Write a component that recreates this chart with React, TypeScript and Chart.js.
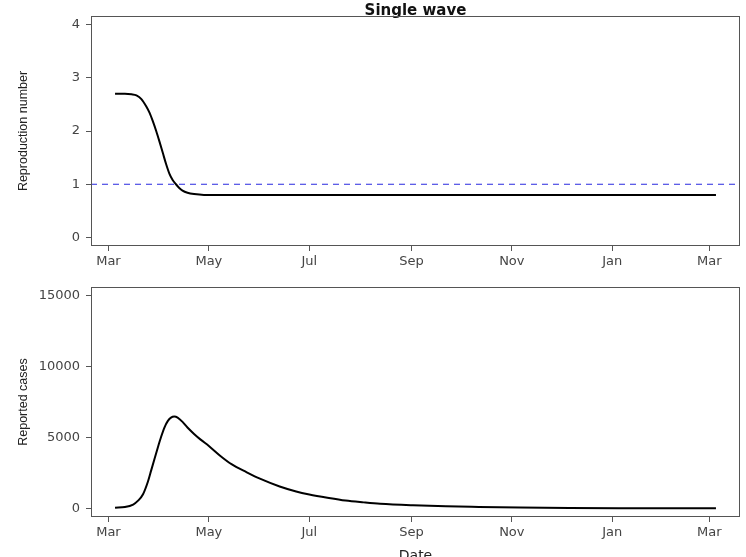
import React, { useEffect, useRef } from "react";
import { Chart, registerables } from "chart.js";

Chart.register(...registerables);

// Days counted from 1 March 2020
const xTickDays = [0, 61, 122, 184, 245, 306, 365];
const xTickLabels = ["Mar", "May", "Jul", "Sep", "Nov", "Jan", "Mar"];
const xMin = -10.6;
const xMax = 383.6;

const rtTicks = [0, 1, 2, 3, 4];
const casesTicks = [0, 5000, 10000, 15000];

const rtDays = [4, 10, 14, 17, 20, 23, 25, 27, 29, 31, 33, 35, 37, 39, 41, 43, 45, 48, 52, 58, 100, 200, 300, 369];
const rtValues = [2.7, 2.7, 2.69, 2.67, 2.6, 2.46, 2.34, 2.18, 2.0, 1.8, 1.59, 1.38, 1.2, 1.08, 1.0, 0.93, 0.88, 0.84, 0.815, 0.8, 0.8, 0.8, 0.8, 0.8];
const rtThreshold = 1;

const caseDays = [4, 10, 15, 18, 21, 24, 26, 28, 30, 32, 34, 36, 38, 40, 42, 45, 48, 52, 56, 61, 68, 75, 84, 92, 104, 114, 122, 133, 144, 155, 165, 185, 205, 225, 250, 280, 310, 340, 369];
const caseValues = [50, 100, 280, 550, 1000, 1900, 2700, 3500, 4300, 5050, 5700, 6150, 6400, 6470, 6400, 6100, 5700, 5250, 4850, 4400, 3700, 3100, 2550, 2100, 1550, 1200, 990, 760, 560, 430, 330, 220, 150, 110, 70, 40, 25, 15, 10];

const TICK_FONT = { family: "'DejaVu Sans', sans-serif", size: 13 };
const YTITLE_FONT = { family: "'Liberation Sans', Arial, sans-serif", size: 12.5 };
const AXIS_COLOR = "#555";
const LABEL_COLOR = "#444";

const boxPlugin = {
  id: "rbox",
  afterDatasetsDraw(chart: any) {
    const { ctx, chartArea: a } = chart;
    ctx.save();
    ctx.strokeStyle = AXIS_COLOR;
    ctx.lineWidth = 1;
    const l = Math.round(a.left) + 0.5;
    const t = Math.round(a.top) + 0.5;
    const r = Math.round(a.right) - 0.5;
    const b = Math.round(a.bottom) - 0.5;
    ctx.strokeRect(l, t, r - l, b - t);
    ctx.restore();
  },
};

function xScale(height: number, title?: string) {
  return {
    type: "linear",
    min: xMin,
    max: xMax,
    bounds: "data",
    afterBuildTicks: (s: any) => {
      s.ticks = xTickDays.map((v) => ({ value: v }));
    },
    afterFit: (s: any) => {
      s.height = height;
    },
    ticks: {
      autoSkip: false,
      maxRotation: 0,
      padding: 3,
      color: LABEL_COLOR,
      font: TICK_FONT,
      callback: (_v: any, i: number) => xTickLabels[i],
    },
    grid: { drawOnChartArea: false, drawTicks: true, tickLength: 5, color: AXIS_COLOR },
    border: { display: false },
    title: title
      ? {
          display: true,
          text: title,
          color: "#222",
          font: { family: "'DejaVu Sans', sans-serif", size: 14 },
          padding: { top: 0, bottom: 5 },
        }
      : { display: false },
  };
}

function yScale(min: number, max: number, ticks: number[], title: string) {
  return {
    type: "linear",
    min,
    max,
    bounds: "data",
    afterBuildTicks: (s: any) => {
      s.ticks = ticks.map((v) => ({ value: v }));
    },
    afterFit: (s: any) => {
      s.width = 91;
    },
    ticks: {
      autoSkip: false,
      padding: 6,
      color: LABEL_COLOR,
      font: TICK_FONT,
      callback: (v: any) => String(v),
    },
    grid: { drawOnChartArea: false, drawTicks: true, tickLength: 5, color: AXIS_COLOR },
    border: { display: false },
    title: {
      display: true,
      text: title,
      color: "#222",
      font: YTITLE_FONT,
      padding: { top: 16, bottom: 0 },
    },
  };
}

export default function App() {
  const topRef = useRef<HTMLCanvasElement>(null);
  const botRef = useRef<HTMLCanvasElement>(null);

  useEffect(() => {
    const rtData = rtDays.map((d, i) => ({ x: d, y: rtValues[i] }));
    const caseData = caseDays.map((d, i) => ({ x: d, y: caseValues[i] }));

    const top = new Chart(topRef.current as HTMLCanvasElement, {
      type: "line",
      data: {
        datasets: [
          {
            data: rtData,
            borderColor: "#000",
            borderWidth: 2,
            pointRadius: 0,
            cubicInterpolationMode: "monotone",
          },
          {
            data: [
              { x: xMin, y: rtThreshold },
              { x: xMax, y: rtThreshold },
            ],
            borderColor: "#2828e0",
            borderWidth: 1.2,
            borderDash: [6, 5],
            pointRadius: 0,
          },
        ],
      },
      options: {
        animation: false,
        responsive: false,
        layout: { padding: { left: 0, right: 6, top: 0, bottom: 0 } },
        plugins: {
          legend: { display: false },
          tooltip: { enabled: false },
          title: {
            display: true,
            text: "Single wave",
            fullSize: false,
            color: "#111",
            font: { family: "'DejaVu Sans', sans-serif", size: 15, weight: "bold", lineHeight: 1 },
            padding: { top: 4, bottom: -3 },
          },
        },
        scales: {
          x: xScale(24),
          y: yScale(-0.16, 4.16, rtTicks, "Reproduction number"),
        },
      } as any,
      plugins: [boxPlugin],
    });

    const bot = new Chart(botRef.current as HTMLCanvasElement, {
      type: "line",
      data: {
        datasets: [
          {
            data: caseData,
            borderColor: "#000",
            borderWidth: 2,
            pointRadius: 0,
            cubicInterpolationMode: "monotone",
          },
        ],
      },
      options: {
        animation: false,
        responsive: false,
        layout: { padding: { left: 0, right: 6, top: 17, bottom: 0 } },
        plugins: {
          legend: { display: false },
          tooltip: { enabled: false },
        },
        scales: {
          x: xScale(53, "Date"),
          y: yScale(-600, 15600, casesTicks, "Reported cases"),
        },
      } as any,
      plugins: [boxPlugin],
    });

    return () => {
      top.destroy();
      bot.destroy();
    };
  }, []);

  return (
    <div
      style={{
        position: "fixed",
        left: 0,
        top: 0,
        width: 746,
        height: 557,
        overflow: "hidden",
        background: "#fff",
      }}
    >
      <canvas ref={topRef} width={746} height={270} style={{ position: "absolute", left: 0, top: 0, width: 746, height: 270 }} />
      <canvas ref={botRef} width={746} height={300} style={{ position: "absolute", left: 0, top: 270, width: 746, height: 300 }} />
    </div>
  );
}
